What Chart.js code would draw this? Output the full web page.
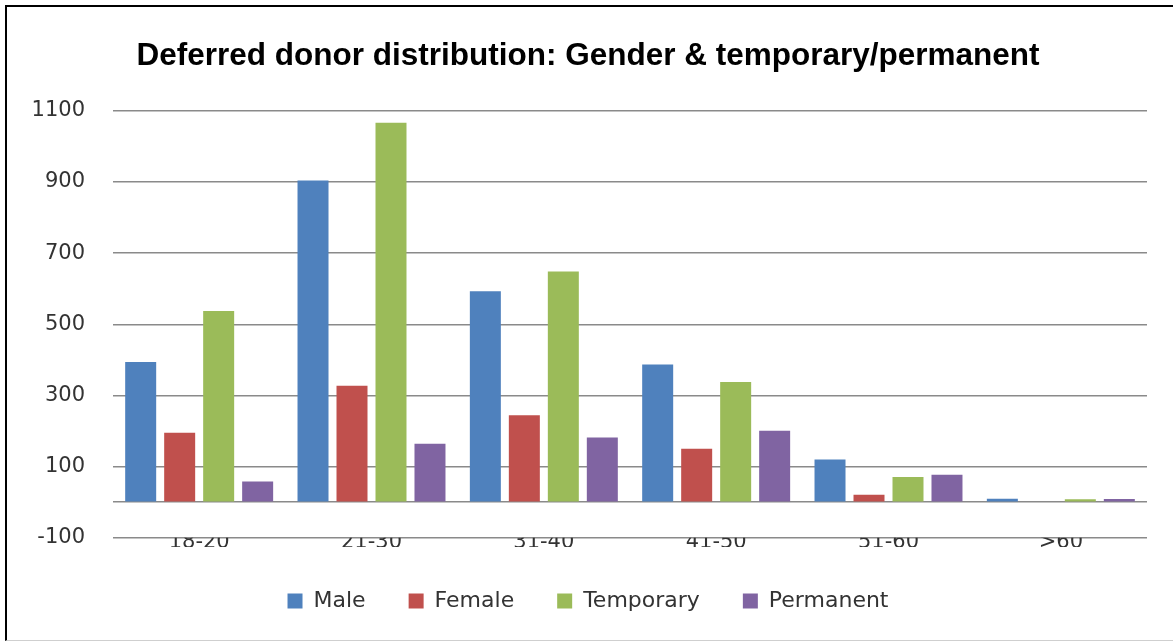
<!DOCTYPE html>
<html>
<head>
<meta charset="utf-8">
<script src="https://cdn.jsdelivr.net/npm/chart.js@4.4.1/dist/chart.umd.min.js"></script>
<style>
  body { margin: 0; background: #fff; }
  #marco { position: absolute; left: 5px; top: 5px; width: 1166px; height: 633px;
           border-top: 2px solid #000; border-left: 2px solid #000; border-bottom: 1px solid #cfcfcf; }
  #chartDonantes { display: block; }
</style>
</head>
<body>
<div id="marco"><canvas id="chartDonantes" width="1166" height="633"></canvas></div>
<script>
var categorias = ['18-20', '21-30', '31-40', '41-50', '51-60', '>60'];
var masculino  = [394, 904, 593, 387, 120, 10];
var femenino   = [195, 327, 244, 150, 21, 2];
var temporal   = [537, 1066, 648, 338, 71, 8];
var permanente = [58, 164, 182, 201, 77, 9];
var colores = ['#4F81BD', '#C0504D', '#9BBB59', '#8064A2'];

var fuenteEje = { family: 'DejaVu Sans', size: 21 };

function serie(label, data, color) {
    return { label: label, data: data, backgroundColor: color, borderWidth: 0,
             categoryPercentage: 0.905, barPercentage: 0.795 };
}

new Chart(document.getElementById('chartDonantes'), {
    type: 'bar',
    data: {
        labels: categorias,
        datasets: [
            serie('Male', masculino, colores[0]),
            serie('Female', femenino, colores[1]),
            serie('Temporary', temporal, colores[2]),
            serie('Permanent', permanente, colores[3])
        ]
    },
    options: {
        responsive: false,
        animation: false,
        layout: { padding: { left: 22, right: 26, top: 0, bottom: 18 } },
        plugins: {
            title: {
                display: true,
                text: 'Deferred donor distribution: Gender & temporary/permanent',
                color: '#000',
                font: { family: 'Liberation Sans', size: 31.5, weight: 'bold' },
                padding: { top: 30.5, bottom: 35.4 }
            },
            legend: {
                position: 'bottom',
                labels: { boxWidth: 15, boxHeight: 15, padding: 43, color: '#333',
                          font: { family: 'DejaVu Sans', size: 22 } }
            },
            tooltip: { enabled: false }
        },
        scales: {
            x: {
                grid: { display: false, drawTicks: false },
                border: { display: false },
                ticks: { color: '#333', font: fuenteEje, padding: -8 },
                afterFit: function (s) { s.height = 9.2; }
            },
            y: {
                min: -100,
                max: 1100,
                border: { display: false },
                grid: {
                    drawTicks: false,
                    lineWidth: 1.5,
                    color: function (ctx) {
                        var v = ctx.tick.value;
                        return (v % 200 !== 0 || v === 0) ? '#8a8a8a' : 'rgba(0,0,0,0)';
                    }
                },
                ticks: {
                    stepSize: 100,
                    autoSkip: false,
                    color: '#333',
                    font: fuenteEje,
                    padding: 28,
                    callback: function (v) { return v % 200 !== 0 ? v : ''; }
                },
                afterFit: function (s) { s.width = 84; }
            }
        }
    }
});
</script>
</body>
</html>
